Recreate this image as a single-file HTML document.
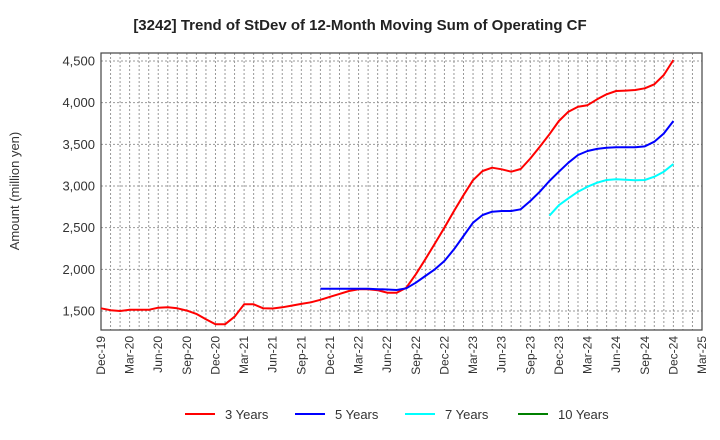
<!DOCTYPE html>
<html><head><meta charset="utf-8"><style>
body{margin:0;background:#fff;}
svg{display:block;font-family:"Liberation Sans",Arial,sans-serif;}
</style></head><body>
<svg id="chart" width="720" height="440" viewBox="0 0 720 440"></svg>
<script>
const xLabels=["Dec-19","Mar-20","Jun-20","Sep-20","Dec-20","Mar-21","Jun-21","Sep-21","Dec-21","Mar-22","Jun-22","Sep-22","Dec-22","Mar-23","Jun-23","Sep-23","Dec-23","Mar-24","Jun-24","Sep-24","Dec-24","Mar-25"];
const yTicks=[1500,2000,2500,3000,3500,4000,4500];
const seriesNames=["3 Years","5 Years","7 Years","10 Years"];
const seriesColors=["#ff0000","#0000ff","#00ffff","#008000"];
const red=[1532,1510,1500,1515,1515,1515,1540,1545,1532,1505,1465,1400,1340,1340,1432,1580,1580,1532,1530,1545,1565,1585,1605,1635,1670,1705,1740,1760,1760,1750,1720,1720,1780,1940,2120,2310,2500,2700,2890,3070,3180,3220,3200,3172,3204,3330,3472,3620,3780,3892,3952,3970,4040,4100,4140,4145,4152,4172,4220,4332,4512];
const blue=[null,null,null,null,null,null,null,null,null,null,null,null,null,null,null,null,null,null,null,null,null,null,null,1768,1768,1768,1768,1768,1768,1762,1758,1752,1772,1840,1920,2000,2100,2240,2400,2560,2652,2692,2700,2700,2720,2820,2932,3060,3172,3280,3372,3420,3445,3460,3465,3465,3465,3475,3532,3630,3780];
const cyan=[null,null,null,null,null,null,null,null,null,null,null,null,null,null,null,null,null,null,null,null,null,null,null,null,null,null,null,null,null,null,null,null,null,null,null,null,null,null,null,null,null,null,null,null,null,null,null,2644,2770,2852,2932,2992,3040,3072,3080,3075,3070,3072,3112,3172,3264];
const green=[];
const NS="http://www.w3.org/2000/svg";
const svg=document.getElementById('chart');
const L=101,R=702,T=53,B=330,yMin=1272,yMax=4596,nMonths=63;
const xs=i=>L+(R-L)*i/nMonths;
const ys=v=>B-(v-yMin)/(yMax-yMin)*(B-T);
function mk(tag,attrs,parent){const e=document.createElementNS(NS,tag);for(const k in attrs)e.setAttribute(k,attrs[k]);(parent||svg).appendChild(e);return e;}
const grid=mk('g',{});


for(let i=1;i<nMonths;i++){mk('line',{x1:xs(i),x2:xs(i),y1:T,y2:B,stroke:'#999','stroke-dasharray':'2,2','stroke-width':1},grid);}
yTicks.forEach(v=>{mk('line',{x1:L,x2:R,y1:ys(v),y2:ys(v),stroke:'#999','stroke-dasharray':'2,2','stroke-width':1},grid);});
const frame=mk('rect',{x:L,y:T,width:R-L,height:B-T,fill:'none',stroke:'#444','stroke-width':1.2});


const yax=mk('g',{});


yTicks.forEach(v=>{const t=mk('text',{x:L-6,y:ys(v)+4.5,'text-anchor':'end','font-size':13,fill:'#333'},yax);t.textContent=v.toLocaleString('en-US');});
const xax=mk('g',{});


xLabels.forEach((s,k)=>{const x=xs(k*3);const t=mk('text',{x:0,y:0,'text-anchor':'end','font-size':12,fill:'#333',transform:`translate(${x+4},${B+6}) rotate(-90)`},xax);t.textContent=s;});
const series=[red,blue,cyan,green];
series.forEach((arr,si)=>{let d='';let started=false;arr.forEach((v,i)=>{if(v==null){started=false;return;}d+=(started?'L':'M')+xs(i).toFixed(1)+','+ys(v).toFixed(1);started=true;});
if(d){const p=mk('path',{d:d,fill:'none',stroke:seriesColors[si],'stroke-width':2,'stroke-linejoin':'round'});

}});
const title=mk('text',{x:360,y:30,'text-anchor':'middle','font-size':15,'font-weight':'bold',fill:'#222'});
title.textContent='[3242]  Trend of StDev of 12-Month Moving Sum of Operating CF';


const yt=mk('text',{x:0,y:0,'text-anchor':'middle','font-size':13,fill:'#333',transform:'translate(19,191) rotate(-90)'});
yt.textContent='Amount (million yen)';


const legX=[185,295,405,518];
seriesNames.forEach((n,i)=>{const g=mk('g',{});


mk('line',{x1:legX[i],x2:legX[i]+30,y1:414,y2:414,stroke:seriesColors[i],'stroke-width':2},g);
const t=mk('text',{x:legX[i]+40,y:419,'font-size':13,fill:'#333'},g);t.textContent=n;});
</script>
</body></html>
